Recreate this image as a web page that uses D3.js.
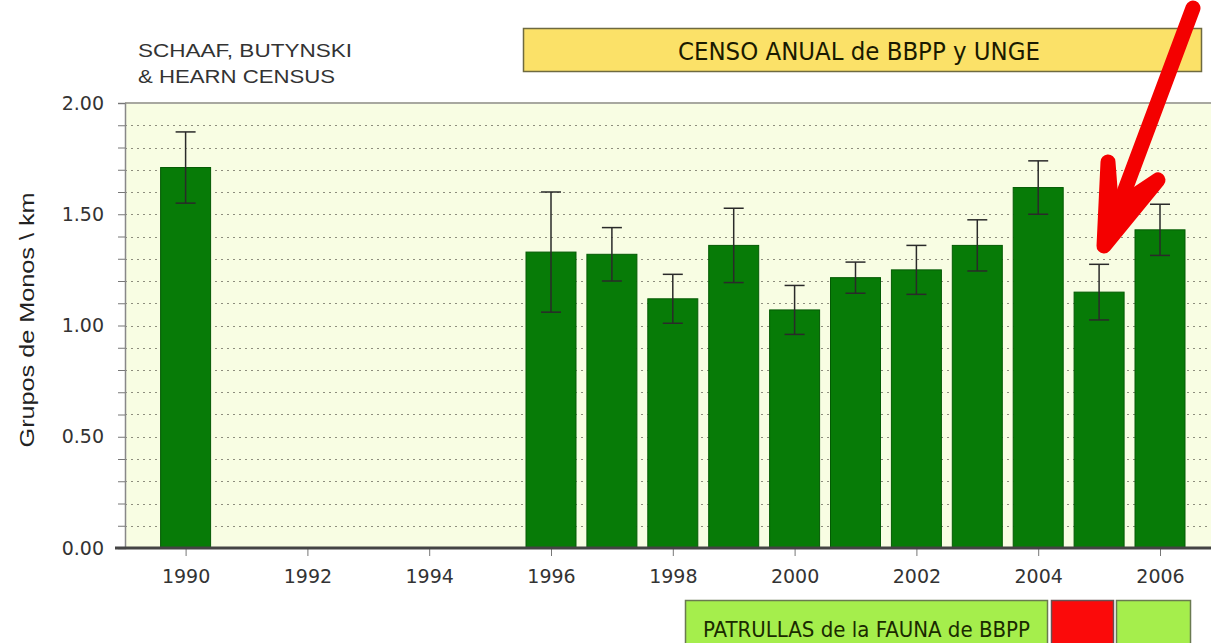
<!DOCTYPE html>
<html lang="es">
<head>
<meta charset="UTF-8">
<title>Grupos de Monos por km</title>
<script src="https://cdn.jsdelivr.net/npm/d3@7/dist/d3.min.js"></script>
<style>
  body { margin: 0; background: #fff; }
  svg { display: block; }
</style>
</head>
<body>
<script>
// datos
var years  = [1990, 1996, 1997, 1998, 1999, 2000, 2001, 2002, 2003, 2004, 2005, 2006];
var values = [1.71, 1.33, 1.32, 1.12, 1.36, 1.07, 1.215, 1.25, 1.36, 1.62, 1.15, 1.43];
var errors = [0.16, 0.27, 0.12, 0.11, 0.167, 0.11, 0.07, 0.11, 0.115, 0.12, 0.125, 0.115];
var tickYears = [1990, 1992, 1994, 1996, 1998, 2000, 2002, 2004, 2006];
var yTicks = [0, 0.5, 1, 1.5, 2];

var W = 1211, H = 643;
var plotL = 125, plotR = 1215, plotT = 103, plotB = 548;
var sans = "'DejaVu Sans', Verdana, sans-serif";
var arial = "'Liberation Sans', Arial, sans-serif";
var cond = "'DejaVu Sans Condensed', 'DejaVu Sans', sans-serif";

var svg = d3.select("body").append("svg")
    .attr("width", W).attr("height", H);

var x = d3.scaleLinear().domain([1990, 2006]).range([185.6, 1160]);
var y = d3.scaleLinear().domain([0, 2]).range([plotB, plotT]);
var barW = 50;

// fondo del area de grafico
svg.append("rect")
   .attr("x", plotL).attr("y", plotT)
   .attr("width", plotR - plotL).attr("height", plotB - plotT)
   .attr("fill", "#f8fde3");

// rejilla punteada cada 0.1
var minor = d3.range(1, 20).map(function(i) { return i / 10; });
svg.selectAll("line.grid")
   .data(minor)
   .enter().append("line")
   .attr("class", "grid")
   .attr("x1", plotL).attr("x2", plotR)
   .attr("y1", function(d) { return Math.round(y(d)) + 0.5; })
   .attr("y2", function(d) { return Math.round(y(d)) + 0.5; })
   .attr("stroke", "#8e8e7e")
   .attr("stroke-width", 1)
   .attr("stroke-dasharray", "2,4");

// borde superior
svg.append("line")
   .attr("x1", plotL).attr("x2", plotR)
   .attr("y1", plotT).attr("y2", plotT)
   .attr("stroke", "#a8a8a0").attr("stroke-width", 2);

// barras
svg.selectAll("rect.bar")
   .data(years)
   .enter().append("rect")
   .attr("class", "bar")
   .attr("x", function(d) { return x(d) - barW / 2; })
   .attr("width", barW)
   .attr("y", function(d, i) { return y(values[i]); })
   .attr("height", function(d, i) { return plotB - y(values[i]); })
   .attr("fill", "#077b07")
   .attr("stroke", "#045a04")
   .attr("stroke-width", 1);

// barras de error
var eb = svg.selectAll("g.err")
   .data(years)
   .enter().append("g")
   .attr("class", "err")
   .attr("stroke", "#2a2a2a")
   .attr("stroke-width", 1.5);
eb.append("line")
  .attr("x1", function(d) { return x(d); })
  .attr("x2", function(d) { return x(d); })
  .attr("y1", function(d, i) { return y(values[i] + errors[i]); })
  .attr("y2", function(d, i) { return y(values[i] - errors[i]); });
eb.append("line")
  .attr("x1", function(d) { return x(d) - 10; })
  .attr("x2", function(d) { return x(d) + 10; })
  .attr("y1", function(d, i) { return y(values[i] + errors[i]); })
  .attr("y2", function(d, i) { return y(values[i] + errors[i]); });
eb.append("line")
  .attr("x1", function(d) { return x(d) - 10; })
  .attr("x2", function(d) { return x(d) + 10; })
  .attr("y1", function(d, i) { return y(values[i] - errors[i]); })
  .attr("y2", function(d, i) { return y(values[i] - errors[i]); });

// eje Y
var yAxis = svg.append("g")
   .attr("transform", "translate(" + plotL + ",0)")
   .call(d3.axisLeft(y).tickValues(d3.range(0, 21).map(function(i) { return i / 10; }))
          .tickSize(7).tickPadding(14)
          .tickFormat(function(d) { return yTicks.indexOf(Math.round(d * 10) / 10) >= 0 ? d3.format(".2f")(d) : ""; }));
yAxis.select(".domain").attr("stroke", "#888").attr("stroke-width", 1.5);
yAxis.selectAll(".tick line").attr("stroke", "#777");
yAxis.selectAll("text")
   .attr("font-family", sans)
   .attr("font-size", 19).attr("fill", "#333");

// eje X
var xAxis = svg.append("g")
   .attr("transform", "translate(0," + plotB + ")")
   .call(d3.axisBottom(x).tickValues(tickYears).tickSize(8).tickPadding(14)
          .tickFormat(d3.format("d")));
xAxis.select(".domain").remove();
xAxis.selectAll(".tick line").attr("stroke", "#777");
xAxis.selectAll("text")
   .attr("font-family", sans)
   .attr("font-size", 19).attr("fill", "#333");

svg.append("line")
   .attr("x1", 115).attr("x2", plotR)
   .attr("y1", plotB).attr("y2", plotB)
   .attr("stroke", "#444").attr("stroke-width", 3);

// titulo del eje Y
svg.append("text")
   .attr("transform", "translate(34,320) rotate(-90)")
   .attr("text-anchor", "middle")
   .attr("font-family", arial)
   .attr("font-size", 20).attr("fill", "#222")
   .attr("textLength", 255).attr("lengthAdjust", "spacingAndGlyphs")
   .text("Grupos de Monos \\ km");

// nota arriba a la izquierda
var note = svg.append("text")
   .attr("font-family", arial)
   .attr("font-size", 19).attr("fill", "#333");
note.append("tspan").attr("x", 138).attr("y", 57)
    .attr("textLength", 214).attr("lengthAdjust", "spacingAndGlyphs").text("SCHAAF, BUTYNSKI");
note.append("tspan").attr("x", 138).attr("y", 83)
    .attr("textLength", 197).attr("lengthAdjust", "spacingAndGlyphs").text("& HEARN CENSUS");

// caja amarilla
svg.append("rect")
   .attr("x", 523.5).attr("y", 28.5).attr("width", 678).attr("height", 43)
   .attr("fill", "#fbe168").attr("stroke", "#6e6a40").attr("stroke-width", 1.5);
svg.append("text")
   .attr("x", 678).attr("y", 60)
   .attr("font-family", cond)
   .attr("font-size", 24).attr("fill", "#1a1a00")
   .attr("textLength", 362).attr("lengthAdjust", "spacingAndGlyphs")
   .text("CENSO ANUAL de BBPP y UNGE");

// cajas inferiores
svg.append("rect")
   .attr("x", 685.5).attr("y", 600.5).attr("width", 362).attr("height", 50)
   .attr("fill", "#a5ee4c").attr("stroke", "#6a7a50").attr("stroke-width", 1.5);
svg.append("rect")
   .attr("x", 1051.5).attr("y", 600.5).attr("width", 62).attr("height", 50)
   .attr("fill", "#fb0a0a").attr("stroke", "#6a5050").attr("stroke-width", 1.5);
svg.append("rect")
   .attr("x", 1116.5).attr("y", 600.5).attr("width", 74).attr("height", 50)
   .attr("fill", "#a5ee4c").attr("stroke", "#6a7a50").attr("stroke-width", 1.5);
svg.append("text")
   .attr("x", 703).attr("y", 637)
   .attr("font-family", cond)
   .attr("font-size", 22).attr("fill", "#1a2a00")
   .attr("textLength", 327).attr("lengthAdjust", "spacingAndGlyphs")
   .text("PATRULLAS de la FAUNA de BBPP");

// flecha roja
var arrow = svg.append("g")
   .attr("stroke", "#f40000").attr("fill", "#f40000")
   .attr("stroke-width", 15).attr("stroke-linecap", "round").attr("stroke-linejoin", "round");
arrow.append("line").attr("x1", 1193).attr("y1", 8).attr("x2", 1110).attr("y2", 230);
arrow.append("path")
   .attr("d", "M1108,162 L1104,246 L1158,180 L1128,200 L1112,215 Z");
</script>
</body>
</html>
